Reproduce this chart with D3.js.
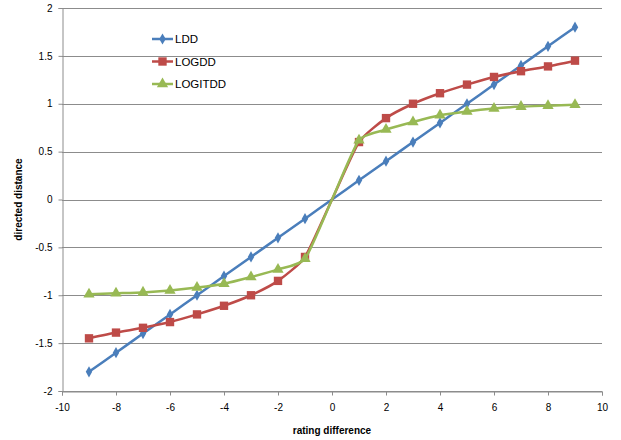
<!DOCTYPE html>
<html>
<head>
<meta charset="utf-8">
<script src="https://cdn.jsdelivr.net/npm/d3@7"></script>
<style>
  body { margin: 0; background: #fff; }
  svg { display: block; font-family: "Liberation Sans", Arial, sans-serif; }
</style>
</head>
<body>
<svg id="chart" width="621" height="440"></svg>
<script>
// 데이터 (0 지점은 선만 지나가고 마커는 없음)
const ratingDiff = [-9, -8, -7, -6, -5, -4, -3, -2, -1, 0, 1, 2, 3, 4, 5, 6, 7, 8, 9];
const ldd = [-1.8, -1.6, -1.4, -1.2, -1.0, -0.8, -0.6, -0.4, -0.2, 0, 0.2, 0.4, 0.6, 0.8, 1.0, 1.2, 1.4, 1.6, 1.8];
const logdd = [-1.45, -1.39, -1.34, -1.28, -1.2, -1.11, -1.0, -0.85, -0.6, 0, 0.6, 0.85, 1.0, 1.11, 1.2, 1.28, 1.34, 1.39, 1.45];
const logitdd = [-0.99, -0.98, -0.97, -0.95, -0.92, -0.88, -0.81, -0.73, -0.62, 0, 0.62, 0.73, 0.81, 0.88, 0.92, 0.95, 0.97, 0.98, 0.99];
const xTicks = [-10, -8, -6, -4, -2, 0, 2, 4, 6, 8, 10];
const yTicks = [-2, -1.5, -1, -0.5, 0, 0.5, 1, 1.5, 2];

const series = [
    {name: "LDD", values: ldd, color: "#4a7ebb", symbol: d3.symbolDiamond, size: 36},
    {name: "LOGDD", values: logdd, color: "#be4b48", symbol: d3.symbolSquare, size: 70},
    {name: "LOGITDD", values: logitdd, color: "#98b954", symbol: d3.symbolTriangle, size: 55}
];

const svg = d3.select("#chart");
const plotLeft = 62, plotRight = 602, plotTop = 8, plotBottom = 391;

const x = d3.scaleLinear().domain([-10, 10]).range([plotLeft, plotRight]);
const y = d3.scaleLinear().domain([-2, 2]).range([plotBottom, plotTop]);

// 가로 격자선
svg.append("g")
    .selectAll("line")
    .data(yTicks)
    .enter()
    .append("line")
    .attr("x1", plotLeft)
    .attr("x2", plotRight)
    .attr("y1", d => Math.round(y(d)) + 0.5)
    .attr("y2", d => Math.round(y(d)) + 0.5)
    .attr("stroke", "#8c8c8c")
    .attr("stroke-width", 1);

// 축
const xAxis = svg.append("g")
    .attr("transform", `translate(0,${Math.round(y(-2)) + 0.5})`)
    .call(d3.axisBottom(x).tickValues(xTicks).tickSize(4).tickPadding(8).tickFormat(d => String(d)));
const yAxis = svg.append("g")
    .attr("transform", `translate(${Math.round(x(-10)) + 0.5},0)`)
    .call(d3.axisLeft(y).tickValues(yTicks).tickSize(4).tickPadding(6).tickFormat(d => String(d)));

[xAxis, yAxis].forEach(a => {
    a.select(".domain").attr("stroke", "#8c8c8c");
    a.selectAll(".tick line").attr("stroke", "#8c8c8c");
    a.selectAll(".tick text").attr("fill", "#000").style("font-size", "10px");
});

// 선 + 마커 (엑셀 부드러운 선 비슷하게)
const line = d3.line()
    .x(d => x(d[0]))
    .y(d => y(d[1]))
    .curve(d3.curveCardinal.tension(0.45));

series.forEach(s => {
    const pts = ratingDiff.map((r, i) => [r, s.values[i]]);
    svg.append("path")
        .datum(pts)
        .attr("d", line)
        .attr("fill", "none")
        .attr("stroke", s.color)
        .attr("stroke-width", 2.5);
    svg.append("g")
        .selectAll("path")
        .data(pts.filter(d => d[0] !== 0))
        .enter()
        .append("path")
        .attr("transform", d => `translate(${x(d[0])},${y(d[1])})`)
        .attr("d", d3.symbol().type(s.symbol).size(s.size))
        .attr("fill", s.color);
});

// 범례
const legend = svg.append("g").attr("transform", "translate(152,39)");
series.forEach((s, i) => {
    const g = legend.append("g").attr("transform", `translate(0,${i * 22.5})`);
    g.append("line").attr("x1", 0).attr("x2", 21).attr("stroke", s.color).attr("stroke-width", 2.5);
    g.append("path").attr("transform", "translate(10.5,0)")
        .attr("d", d3.symbol().type(s.symbol).size(s.size)).attr("fill", s.color);
    g.append("text").attr("x", 23).attr("y", 4).style("font-size", "11.5px").text(s.name);
});

// 축 제목
svg.append("text")
    .attr("x", x(0))
    .attr("y", 434)
    .attr("text-anchor", "middle")
    .style("font-size", "10px")
    .style("font-weight", "bold")
    .text("rating difference");
svg.append("text")
    .attr("transform", `translate(22,${y(0)}) rotate(-90)`)
    .attr("text-anchor", "middle")
    .style("font-size", "10px")
    .style("font-weight", "bold")
    .text("directed distance");
</script>
</body>
</html>
